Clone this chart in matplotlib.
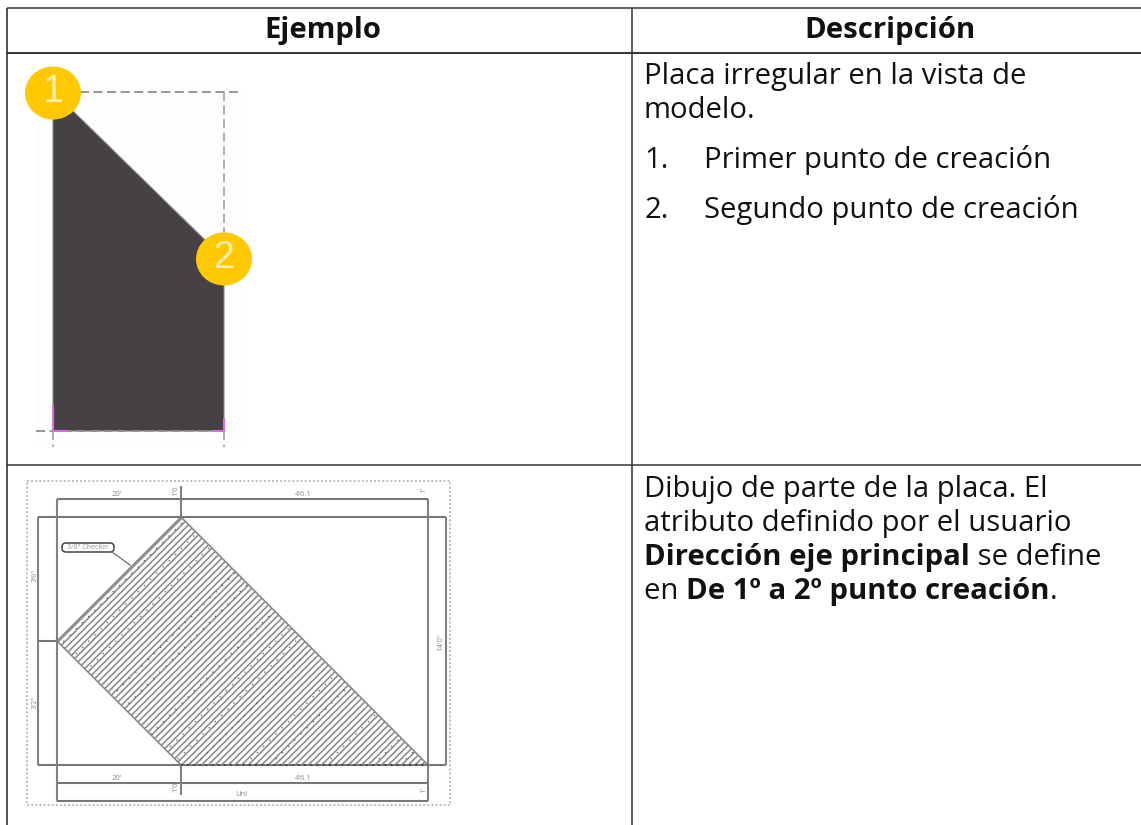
import matplotlib
matplotlib.use('Agg')
import matplotlib.pyplot as plt
from matplotlib.patches import Polygon, Ellipse, Rectangle, FancyBboxPatch

plt.rcParams['font.family'] = ['Open Sans', 'DejaVu Sans']
plt.rcParams['hatch.linewidth'] = 1.15
plt.rcParams['hatch.color'] = '#b2b2b2'

headers = ['Ejemplo', 'Descripción']
header_x = [323, 890]

# table rules, page pixels
table_h = [(7, 1141, 8, '#666666', 1.5), (7, 1141, 53, '#111111', 1.2), (7, 1141, 465, '#444444', 1.2)]
table_v = [(7, 8, 825, '#222222', 1.1), (632, 8, 825, '#333333', 1.1)]

# top picture
plate_x = [53, 72, 205, 224, 224, 53]
plate_y = [112, 110, 240, 258, 431, 431]
dash_h = [(80, 241, 92), (36, 224, 431)]
dash_v = [(224, 92, 240), (53, 431, 447), (224, 431, 447)]
magenta = [(53, 405, 53, 431), (53, 431, 68, 431), (224, 418, 224, 431), (211, 431, 224, 431)]
marker_x = [53, 224]
marker_y = [93, 259]
marker_txt = ['1', '2']

# drawing picture
hatch_x = [181, 57, 181, 428]
hatch_y = [517, 641, 765, 765]
dot_rows = [705, 730, 757, 808, 832, 885, 917, 937, 960, 1010, 1035, 1090, 1138, 1165]
draw_h = [(57, 428, 499), (38, 446, 517), (38, 446, 765), (57, 428, 783), (57, 428, 801), (38, 57, 641)]
draw_v = [(57, 499, 801), (38, 517, 765), (428, 499, 801), (446, 517, 765), (181, 486, 517), (181, 765, 795)]
dim_labels = [("20'", 117, 494, 0), ("4'6.1", 303, 494, 0), ("20'", 117, 778, 0), ("4'6.1", 303, 778, 0),
              ("Uni", 241, 795, 0), ("3'6\"", 35, 575, 90), ("3'2\"", 35, 702, 90), ("14'0\"", 441, 642, 90),
              ("1'6", 176, 491, 90), ("1'6", 176, 787, 90), ("1'", 424, 490, 90), ("1'", 424, 790, 90)]

# right column text, one list per line: (text, bold)
desc_lines = [
    (644, 84, [('Placa irregular en la vista de', False)]),
    (644, 118, [('modelo.', False)]),
    (644, 168, [('1.', False)]),
    (704, 168, [('Primer punto de creación', False)]),
    (644, 218, [('2.', False)]),
    (704, 218, [('Segundo punto de creación', False)]),
    (644, 497, [('Dibujo de parte de la placa. El', False)]),
    (644, 531, [('atributo definido por el usuario', False)]),
    (644, 565, [('Dirección eje principal', True), (' se define', False)]),
    (644, 599, [('en ', False), ('De 1º a 2º punto creación', True), ('.', False)]),
]


def draw_text_line(fig, ax, x, y, pieces):
    rend = fig.canvas.get_renderer()
    for txt, bold in pieces:
        t = ax.text(x, y, txt, fontsize=21.1, va='baseline', ha='left', color='#111111',
                    fontweight='bold' if bold else 'normal')
        x = t.get_window_extent(rend).x1


def main():
    fig = plt.figure(figsize=(11.41, 8.25), dpi=100)
    ax = fig.add_axes([0, 0, 1, 1])
    ax.set_xlim(0, 1141)
    ax.set_ylim(825, 0)
    ax.axis('off')

    for x0, x1, y, col, lw in table_h:
        ax.plot([x0, x1], [y, y], color=col, lw=lw, solid_capstyle='butt')
    for x, y0, y1, col, lw in table_v:
        ax.plot([x, x], [y0, y1], color=col, lw=lw, solid_capstyle='butt')
    for txt, x in zip(headers, header_x):
        ax.text(x, 38, txt, fontsize=21.1, fontweight='bold', ha='center', va='baseline', color='#111111')

    # top picture
    ax.add_patch(Rectangle((36, 85), 205, 362, color='#fbfefb', lw=0))
    for x0, x1, y in dash_h:
        ax.plot([x0, x1], [y, y], color='#8f8f8f', lw=1.3, dashes=(5, 2.5))
    for x, y0, y1 in dash_v:
        ax.plot([x, x], [y0, y1], color='#a8a8a8', lw=1.3, dashes=(5, 2.5))
    ax.add_patch(Polygon(list(zip(plate_x, plate_y)), closed=True, fc='#464145', ec='#8c898c', lw=0.8))
    for x0, y0, x1, y1 in magenta:
        ax.plot([x0, x1], [y0, y1], color='#e06be0', lw=1.5, solid_capstyle='butt')
    for x, y, txt in zip(marker_x, marker_y, marker_txt):
        ax.add_patch(Ellipse((x, y), 56, 53, fc='#ffc800', ec='none', zorder=4))
        ax.text(x, y - 1, txt, fontsize=27, color='#ffeeb0', family='Liberation Sans',
                ha='center', va='center', zorder=5)

    # drawing picture
    ax.add_patch(Rectangle((27, 481), 423, 324, fc='none', ec='#bdbdbd', lw=1.4, ls=(0, (1, 1.1))))
    hatch_poly = Polygon(list(zip(hatch_x, hatch_y)), closed=True, fc='white', ec='#8a8a8a', lw=1.2, hatch='/////')
    ax.add_patch(hatch_poly)
    for c in dot_rows:
        line, = ax.plot([c - 517, c - 765], [517, 765], color='#555555', lw=0.9, dashes=(1, 6))
        line.set_clip_path(hatch_poly)
    for x0, x1, y in draw_h:
        ax.plot([x0, x1], [y, y], color='#777777', lw=1.5, solid_capstyle='butt')
    for x, y0, y1 in draw_v:
        ax.plot([x, x], [y0, y1], color='#808080', lw=1.5, solid_capstyle='butt')
    ax.plot([hatch_x[2], hatch_x[3]], [hatch_y[2], hatch_y[3]], color='#333333', lw=1.2, dashes=(1, 2.7))
    ax.add_patch(FancyBboxPatch((62, 543), 52, 9, boxstyle='round,pad=0,rounding_size=4',
                                fc='white', ec='#444444', lw=1.1))
    ax.plot([112, 130], [552, 565], color='#777777', lw=1.0)
    ax.text(88, 547.5, "3/8\" Checker", fontsize=5, color='#999999', ha='center', va='center')
    for txt, x, y, rot in dim_labels:
        ax.text(x, y, txt, fontsize=5.5, color='#8a8a8a', rotation=rot, ha='center', va='center')

    fig.canvas.draw()
    for x, y, pieces in desc_lines:
        draw_text_line(fig, ax, x, y, pieces)

    fig.savefig('out.png', dpi=100)


if __name__ == '__main__':
    main()
